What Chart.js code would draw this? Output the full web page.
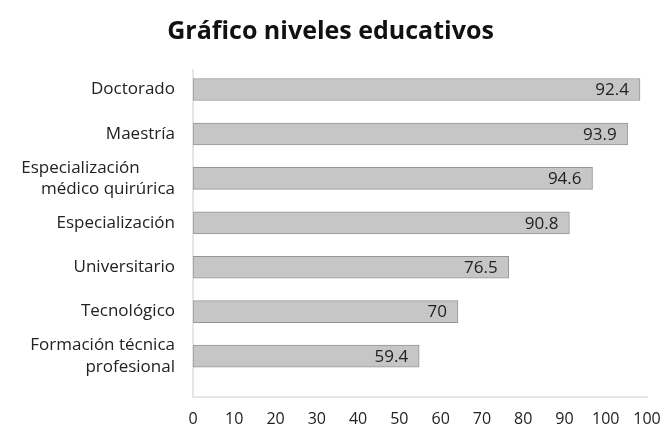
<!DOCTYPE html>
<html lang="es">
<head>
    <meta charset="UTF-8">
    <title>Gráfico niveles educativos</title>
    <script src="https://cdn.jsdelivr.net/npm/chart.js"></script>
    <style>
        body { margin: 0; background: #fff; }
    </style>
</head>
<body>
    <canvas id="chart" width="664" height="426"></canvas>

    <script>
        // categorías (de arriba hacia abajo)
        const niveles = [
            'Doctorado',
            'Maestría',
            ['Especialización        ', 'médico quirúrica'],
            'Especialización',
            'Universitario',
            'Tecnológico',
            ['Formación técnica', 'profesional']
        ];
        // largo de cada barra leído sobre el eje
        const largoBarras = [108.3, 105.3, 96.8, 91.2, 76.5, 64.2, 54.8];
        // valor impreso dentro de cada barra
        const valores = ['92.4', '93.9', '94.6', '90.8', '76.5', '70', '59.4'];
        // etiquetas del eje x
        const ejeX = ['0', '10', '20', '30', '40', '50', '60', '70', '80', '90', '100', '100'];

        const etiquetasBarras = {
            id: 'etiquetasBarras',
            afterDatasetsDraw(chart) {
                const ctx = chart.ctx;
                const meta = chart.getDatasetMeta(0);
                ctx.save();
                ctx.font = '17px "Open Sans"';
                ctx.fillStyle = '#222';
                ctx.textAlign = 'right';
                ctx.textBaseline = 'middle';
                meta.data.forEach((bar, i) => {
                    ctx.fillText(valores[i], bar.x - 11, bar.y + 1);
                });
                ctx.restore();
            }
        };

        new Chart(document.getElementById('chart'), {
            type: 'bar',
            data: {
                datasets: [{
                    data: largoBarras.map((v, i) => ({ x: v, y: i })),
                    backgroundColor: '#c6c6c6',
                    borderColor: '#969696',
                    borderWidth: 1,
                    borderSkipped: false,
                    barThickness: 22
                }]
            },
            options: {
                indexAxis: 'y',
                responsive: false,
                animation: false,
                devicePixelRatio: 1,
                layout: { padding: { left: 14, right: 17, top: 0, bottom: 0 } },
                plugins: {
                    legend: { display: false },
                    tooltip: { enabled: false },
                    title: {
                        display: true,
                        text: 'Gráfico niveles educativos',
                        color: '#111',
                        font: { family: '"Open Sans"', size: 25, weight: 'bold' },
                        padding: { top: 17, bottom: 23 }
                    }
                },
                scales: {
                    x: {
                        min: 0,
                        max: 110,
                        grid: { display: false, drawTicks: false },
                        border: { display: true, color: '#e6e6e6', width: 2 },
                        ticks: {
                            stepSize: 10,
                            padding: 12,
                            color: '#222',
                            font: { family: '"Open Sans"', size: 16 },
                            maxRotation: 0,
                            autoSkip: false,
                            callback: (v, i) => ejeX[i]
                        },
                        afterFit: s => { s.height = 28; s.paddingRight = 0; }
                    },
                    y: {
                        type: 'linear',
                        reverse: true,
                        offset: false,
                        min: -0.44,
                        max: 6.93,
                        grid: { display: false, drawTicks: false },
                        border: { display: true, color: '#e6e6e6', width: 2 },
                        afterBuildTicks: s => { s.ticks = niveles.map((_, i) => ({ value: i })); },
                        ticks: {
                            autoSkip: false,
                            padding: 18,
                            color: '#222',
                            font: { family: '"Open Sans"', size: 17, lineHeight: 1.25 },
                            callback: v => niveles[v]
                        },
                        afterFit: s => { s.width = 179; }
                    }
                }
            },
            plugins: [etiquetasBarras]
        });
    </script>
</body>
</html>
